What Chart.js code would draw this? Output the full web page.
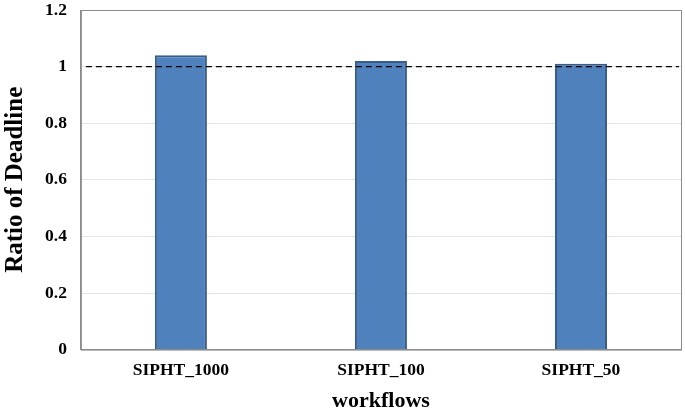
<!DOCTYPE html>
<html>
<head>
<meta charset="utf-8">
<script src="https://cdn.jsdelivr.net/npm/chart.js@4/dist/chart.umd.min.js"></script>
<style>
  html, body { margin: 0; padding: 0; background: #fff; }
  #wrap { width: 685px; height: 412px; }
</style>
</head>
<body>
<div id="wrap"><canvas id="chart"></canvas></div>
<script>
const categories = ["SIPHT_1000", "SIPHT_100", "SIPHT_50"];
const ratios = [1.04, 1.02, 1.01];
const deadline = 1;

const font = "'Liberation Serif', 'Times New Roman', serif";

// dashed deadline line and frame around the plot
const extras = {
  id: "extras",
  afterDatasetsDraw(chart) {
    const { ctx, chartArea, scales } = chart;
    const y = scales.y.getPixelForValue(deadline);
    ctx.save();
    ctx.strokeStyle = "#000";
    ctx.lineWidth = 1.2;
    ctx.setLineDash([6, 4]);
    ctx.beginPath();
    ctx.moveTo(chartArea.left + 5, y);
    ctx.lineTo(chartArea.right - 2, y);
    ctx.stroke();
    ctx.setLineDash([]);
    ctx.strokeStyle = "#8c8c8c";
    ctx.lineWidth = 1;
    ctx.strokeRect(chartArea.left + 0.5, chartArea.top + 0.5,
      chartArea.right - chartArea.left, chartArea.bottom - chartArea.top);
    ctx.restore();
  }
};

new Chart(document.getElementById("chart"), {
  type: "bar",
  data: {
    labels: categories,
    datasets: [{
      label: "Ratio",
      data: ratios,
      backgroundColor: "#4F81BD",
      borderColor: "#385D8A",
      borderWidth: 2,
      barPercentage: 0.26,
      categoryPercentage: 1.0
    }]
  },
  options: {
    responsive: true,
    maintainAspectRatio: false,
    animation: false,
    layout: { padding: { top: 10, right: 4, left: 1, bottom: -3 } },
    plugins: {
      legend: { display: false },
      tooltip: { enabled: false }
    },
    scales: {
      x: {
        grid: { display: false },
        border: { color: "#8c8c8c" },
        ticks: { color: "#000", font: { family: font, size: 17.5, weight: "bold" }, padding: 2 },
        title: { display: true, text: "workflows", color: "#000", font: { family: font, size: 22, weight: "bold" }, padding: { top: 6, bottom: 0 } }
      },
      y: {
        min: 0,
        max: 1.2,
        afterFit: s => { s.paddingTop = 0; },
        grid: { color: "#e4e4e4", drawTicks: false },
        border: { color: "#8c8c8c" },
        ticks: {
          stepSize: 0.2,
          color: "#000",
          padding: 14,
          font: { family: font, size: 17.5, weight: "bold" },
          callback: v => Math.round(v * 10) / 10
        },
        title: { display: true, text: "Ratio of Deadline", color: "#000", font: { family: font, size: 25, weight: "bold" }, padding: { top: 0, bottom: 0 } }
      }
    }
  },
  plugins: [extras]
});
</script>
</body>
</html>
